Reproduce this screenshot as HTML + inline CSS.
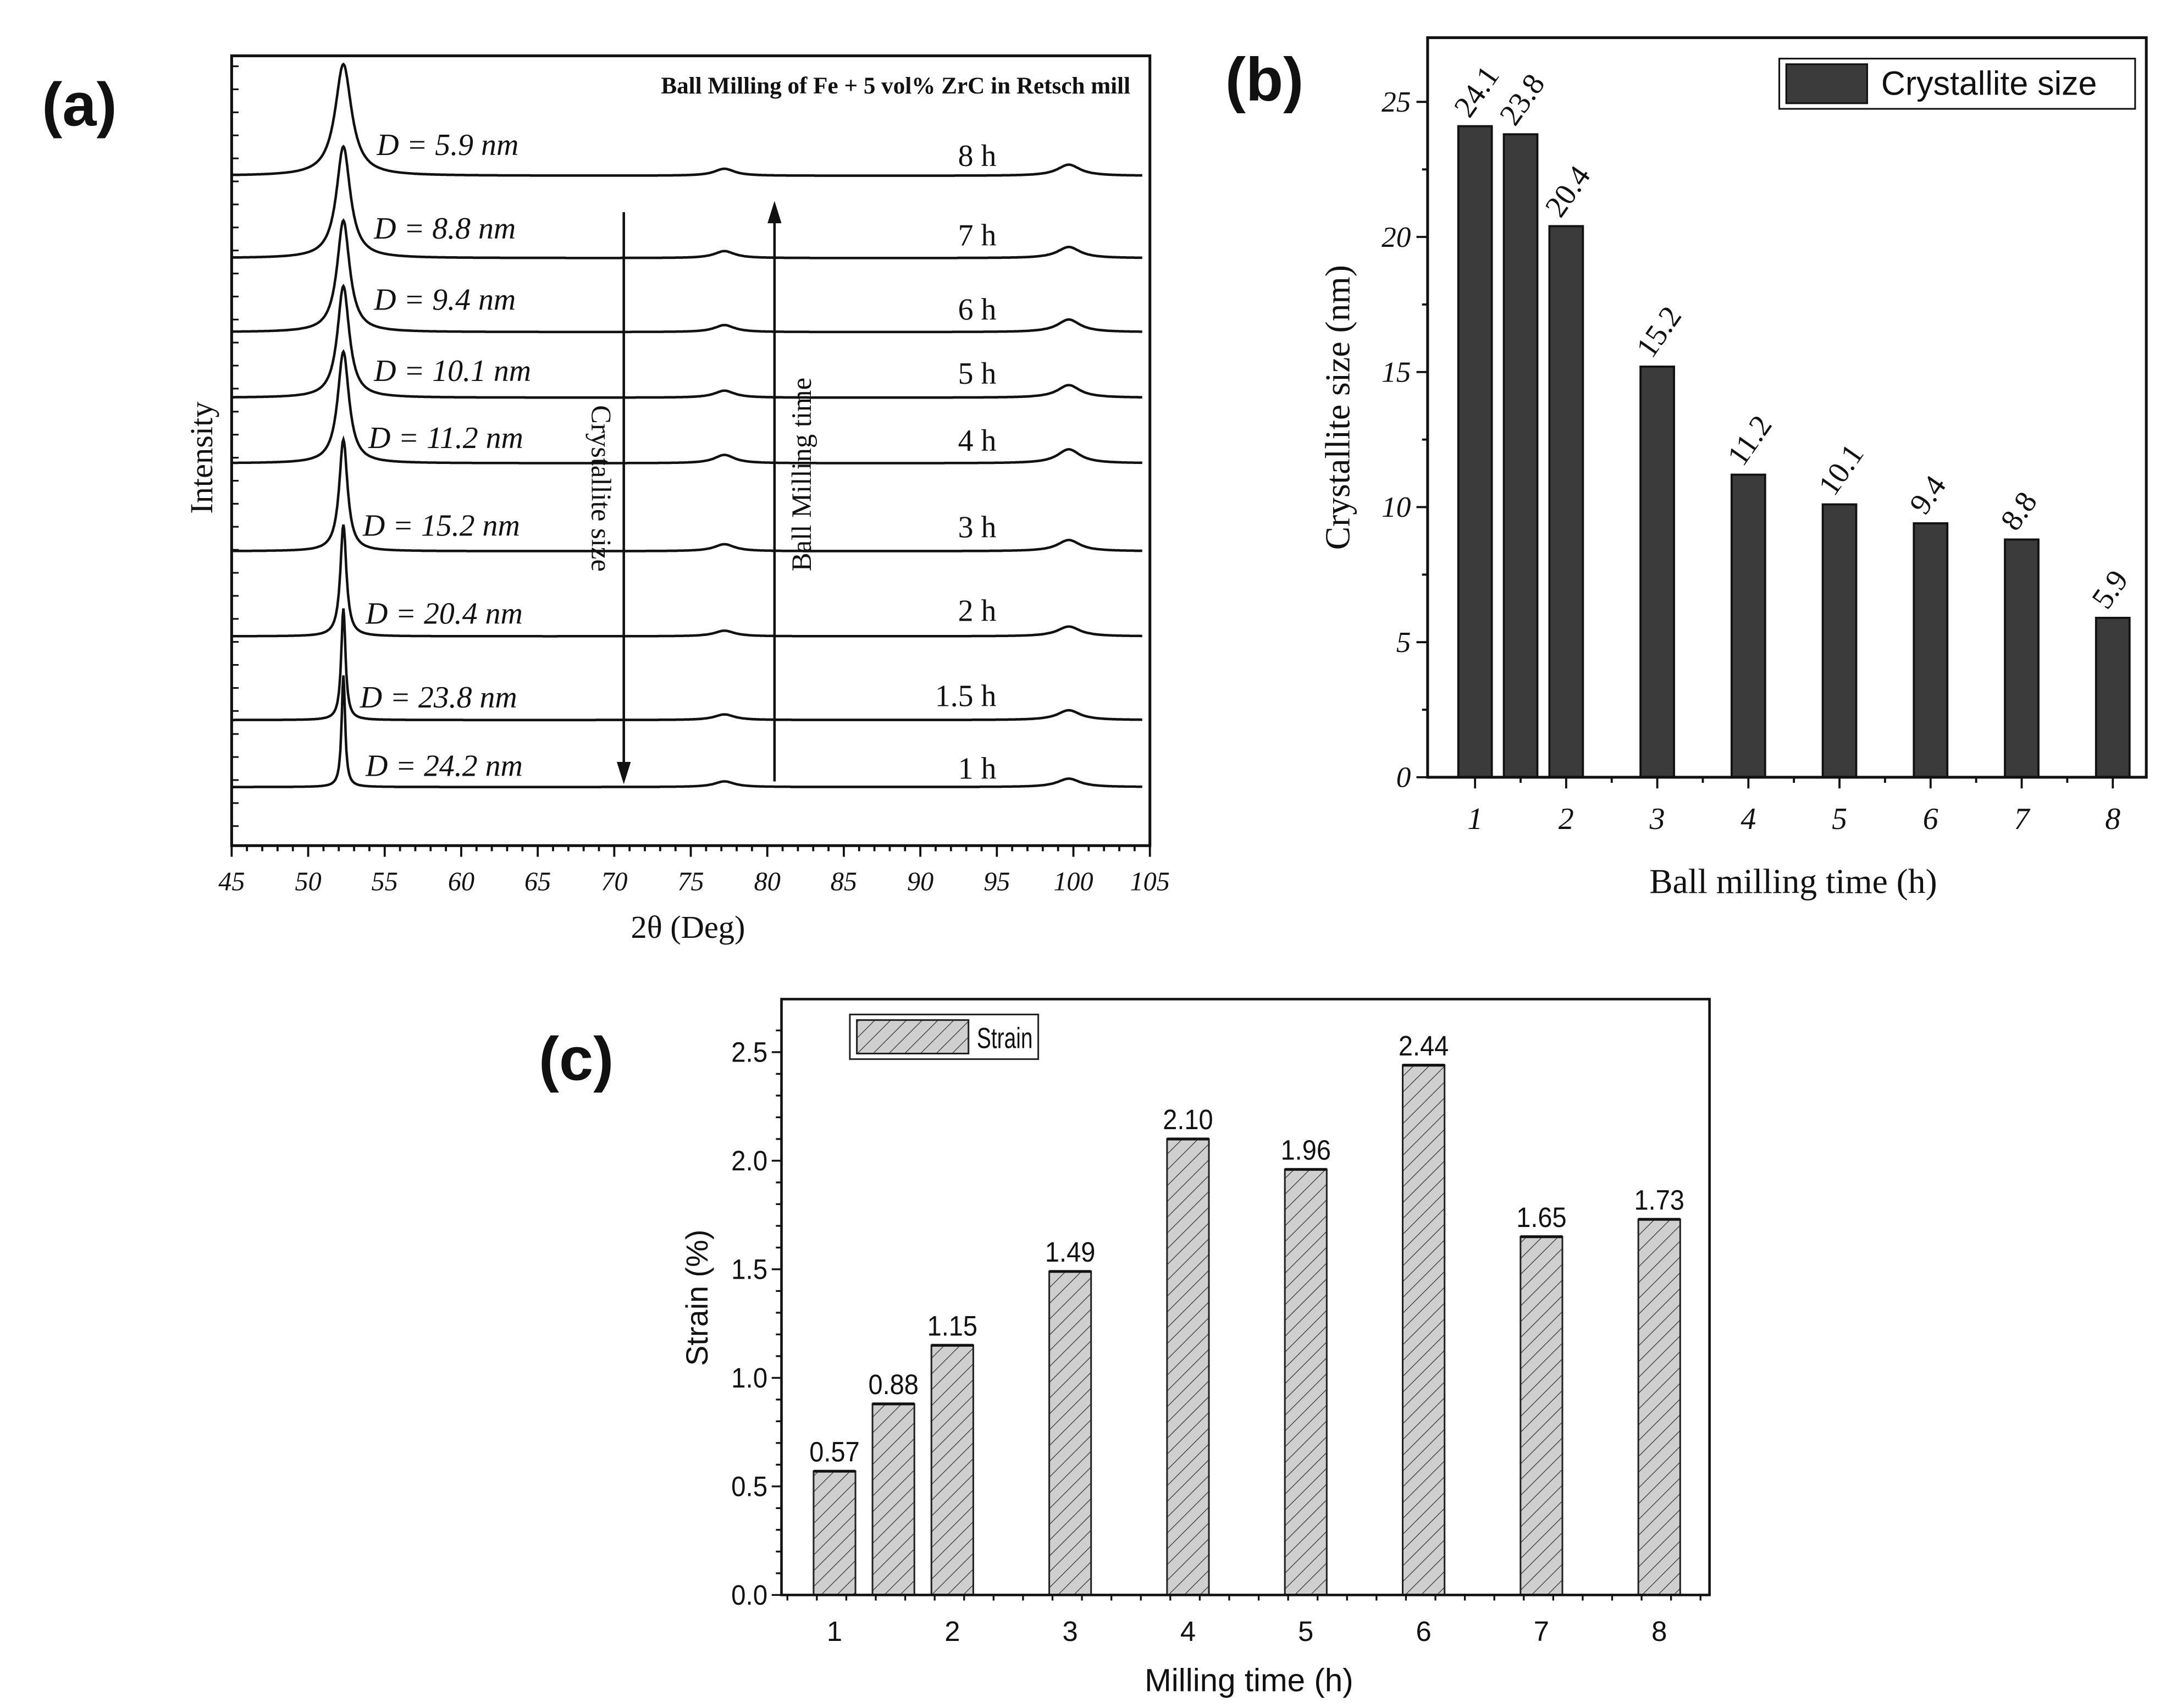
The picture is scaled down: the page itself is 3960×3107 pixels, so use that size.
<!DOCTYPE html>
<html><head><meta charset="utf-8"><style>
html,body{margin:0;padding:0;background:#fff;}
svg{display:block;}
text{fill:#111;}
.serif{font-family:"Liberation Serif",serif;}
.sans{font-family:"Liberation Sans",sans-serif;}
</style></head><body>
<svg id="fig" width="3960" height="3107" viewBox="0 0 1560 1224" preserveAspectRatio="none" xmlns="http://www.w3.org/2000/svg">
<defs>
<pattern id="hatch" patternUnits="userSpaceOnUse" width="8" height="8" patternTransform="rotate(45)">
<rect width="8" height="8" fill="#cfcfcf"/><line x1="0" y1="0" x2="0" y2="8" stroke="#333" stroke-width="1"/>
</pattern>
</defs>
<g id="pa"></g>
<g id="pb"></g>
<g id="pc"></g>
</svg>
<script>
// ---- Panel (a) data ----
const xrdHours = ["8 h","7 h","6 h","5 h","4 h","3 h","2 h","1.5 h","1 h"];
const xrdD = ["5.9","8.8","9.4","10.1","11.2","15.2","20.4","23.8","24.2"];
const xrdBaseline = [126,185,238,285,332,395,456,516,564];
const xrdPeakWidth = [0.65,0.55,0.5,0.47,0.45,0.33,0.24,0.17,0.14];
const xrdPeak2 = [5,5,5,5,6,5,4,4,4];
const xrdPeak3 = [8,8,9,9,10,8,7,7,6];
// ---- Panel (b) data ----
const sizeCats = [1,1.5,2,3,4,5,6,7,8];
const sizeVals = [24.1,23.8,20.4,15.2,11.2,10.1,9.4,8.8,5.9];
const sizeTicks = [0,5,10,15,20,25];
const sizeXTicks = [1,2,3,4,5,6,7,8];
// ---- Panel (c) data ----
const strainCats = [1,1.5,2,3,4,5,6,7,8];
const strainVals = [0.57,0.88,1.15,1.49,2.10,1.96,2.44,1.65,1.73];
const strainLabels = ["0.57","0.88","1.15","1.49","2.10","1.96","2.44","1.65","1.73"];
const strainTicks = [0.0,0.5,1.0,1.5,2.0,2.5];
const strainXTicks = [1,2,3,4,5,6,7,8];

const NS="http://www.w3.org/2000/svg";
function mk(parent,tag,attrs,txt){const e=document.createElementNS(NS,tag);for(const k in attrs)e.setAttribute(k,attrs[k]);if(txt!==undefined)e.textContent=txt;parent.appendChild(e);return e;}

// ===== Panel A =====
(function(){
const g=document.getElementById('pa');
const L=166,R=824,T=40,B=606;
const xa=v=>L+(v-45)*(R-L)/60;
let t=mk(g,'text',{x:30,y:90,'font-size':44,'font-weight':'bold',class:'sans'},'(a)');


let r=mk(g,'rect',{x:L,y:T,width:R-L,height:B-T,fill:'none',stroke:'#111','stroke-width':2});


for(let v=45;v<=105;v+=1){const x=xa(v);const major=v%5===0;
 let l=mk(g,'line',{x1:x,y1:B,x2:x,y2:B+(major?8:4),stroke:'#111','stroke-width':1.5});
 
 
 if(major){let tl=mk(g,'text',{x:x,y:638,'font-size':19,'font-style':'italic','text-anchor':'middle',class:'serif'},String(v));
  
  }
}
for(let y=B-14;y>T;y-=16.5){let l=mk(g,'line',{x1:L,y1:y,x2:L+5,y2:y,stroke:'#111','stroke-width':1.2});
 
 }
t=mk(g,'text',{x:493,y:672,'font-size':23,'text-anchor':'middle',class:'serif'},'2θ (Deg)');


t=mk(g,'text',{x:0,y:0,'font-size':23,'text-anchor':'middle',class:'serif',transform:'translate(152,328) rotate(-90)'},'Intensity');


t=mk(g,'text',{x:810,y:67,'font-size':17,'font-weight':'bold','text-anchor':'end',class:'serif'},'Ball Milling of Fe + 5 vol% ZrC in Retsch mill');


const dY=[111,171,222,273,321,384,447,507,556], dX=[270,268,268,268,264,260,262,258,262];
const hY=[119,176,229,275,323,385,445,506,558];
for(let i=0;i<xrdHours.length;i++){
 const base=xrdBaseline[i], w=xrdPeakWidth[i];
 let d='';
 for(let v=45;v<=104.5;v+=0.05){
  const p1=80/(1+Math.pow((v-52.3)/w,2));
  const p2=xrdPeak2[i]/(1+Math.pow((v-77.2)/0.8,2));
  const p3=xrdPeak3[i]/(1+Math.pow((v-99.7)/0.9,2));
  const y=base-p1-p2-p3;
  d+=(d?'L':'M')+xa(v).toFixed(1)+','+y.toFixed(1);
 }
 let p=mk(g,'path',{d:d,fill:'none',stroke:'#111','stroke-width':1.8});
 
 
 let dl=mk(g,'text',{x:dX[i],y:dY[i],'font-size':22,'font-style':'italic',class:'serif'},'D = '+xrdD[i]+' nm');
 
 
 let hl=mk(g,'text',{x:714,y:hY[i],'font-size':22,'text-anchor':'end',class:'serif'},xrdHours[i]);
 
 
}
let a1=mk(g,'path',{d:'M447,152 L447,550',stroke:'#111','stroke-width':1.8,fill:'none'});


mk(g,'path',{d:'M442,546 L452,546 L447,562 Z',fill:'#111'});
let a2=mk(g,'path',{d:'M555,560 L555,156',stroke:'#111','stroke-width':1.8,fill:'none'});


mk(g,'path',{d:'M550,160 L560,160 L555,144 Z',fill:'#111'});
t=mk(g,'text',{x:0,y:0,'font-size':20,'text-anchor':'middle',class:'serif',transform:'translate(424,350) rotate(90)'},'Crystallite size');


t=mk(g,'text',{x:0,y:0,'font-size':20,'text-anchor':'middle',class:'serif',transform:'translate(581,340) rotate(-90)'},'Ball Milling time');


})();

// ===== Panel B =====
(function(){
const g=document.getElementById('pb');
const L=1023,R=1538,T=27,B=557;
const ya=v=>B-v*(B-73)/25;
const xa=h=>1057+(h-1)*(1514-1057)/7;
let t=mk(g,'text',{x:878,y:72,'font-size':44,'font-weight':'bold',class:'sans'},'(b)');


for(let i=0;i<sizeVals.length;i++){
 const x=xa(sizeCats[i]),y=ya(sizeVals[i]);
 let b=mk(g,'rect',{x:x-12,y:y,width:24,height:B-y,fill:'#3b3b3b',stroke:'#111','stroke-width':1.5});
 
 
 let lb=mk(g,'text',{x:0,y:0,'font-size':22,class:'serif',transform:'translate('+(x-4)+','+(y-5)+') rotate(-55)'},String(sizeVals[i]));
 
 
}
let r=mk(g,'rect',{x:L,y:T,width:R-L,height:B-T,fill:'none',stroke:'#111','stroke-width':2});


for(let v=0;v<=27;v+=2.5){const y=ya(v);const major=v%5===0;
 let l=mk(g,'line',{x1:L-(major?8:4),y1:y,x2:L,y2:y,stroke:'#111','stroke-width':1.5});
 
 }
sizeTicks.forEach(v=>{let tl=mk(g,'text',{x:L-12,y:ya(v)+7,'font-size':21,'font-style':'italic','text-anchor':'end',class:'serif'},String(v));
 
 });
for(let h=1;h<=8;h+=0.5){const x=xa(h);const major=h%1===0;
 let l=mk(g,'line',{x1:x,y1:B,x2:x,y2:B+(major?8:4),stroke:'#111','stroke-width':1.5});
 
 }
sizeXTicks.forEach(h=>{let tl=mk(g,'text',{x:xa(h),y:594,'font-size':22,'font-style':'italic','text-anchor':'middle',class:'serif'},String(h));
 
 });
t=mk(g,'text',{x:1285,y:640,'font-size':25,'text-anchor':'middle',class:'serif'},'Ball milling time (h)');


t=mk(g,'text',{x:0,y:0,'font-size':25,'text-anchor':'middle',class:'serif',transform:'translate(967,292) rotate(-90)'},'Crystallite size (nm)');


let lg=mk(g,'rect',{x:1275,y:42,width:255,height:36,fill:'#fff',stroke:'#111','stroke-width':1.2});


mk(g,'rect',{x:1280,y:46,width:58,height:28,fill:'#3b3b3b',stroke:'#111','stroke-width':1.2});
t=mk(g,'text',{x:1348,y:68,'font-size':24,class:'sans'},'Crystallite size');


})();

// ===== Panel C =====
(function(){
const g=document.getElementById('pc');
const L=560,R=1225,T=716,B=1143;
const ya=v=>B-v*(B-754)/2.5;
const xa=h=>598+(h-1)*(1189-598)/7;
let t=mk(g,'text',{x:386,y:774,'font-size':44,'font-weight':'bold',class:'sans'},'(c)');


for(let i=0;i<strainVals.length;i++){
 const x=xa(strainCats[i]),y=ya(strainVals[i]);
 let b=mk(g,'rect',{x:x-15,y:y,width:30,height:B-y,fill:'url(#hatch)',stroke:'#222','stroke-width':1.2});
 
 
 mk(g,'line',{x1:x-15,y1:y,x2:x+15,y2:y,stroke:'#111','stroke-width':2});
 let lb=mk(g,'text',{x:x,y:y-7,'font-size':20,'text-anchor':'middle',class:'sans',textLength:36,lengthAdjust:'spacingAndGlyphs'},strainLabels[i]);
 
 
}
let r=mk(g,'rect',{x:L,y:T,width:R-L,height:B-T,fill:'none',stroke:'#111','stroke-width':1.8});


for(let v=0;v<=2.7;v+=0.1){const y=ya(v);const major=Math.abs(v*2-Math.round(v*2))<1e-6;
 let l=mk(g,'line',{x1:L-(major?7:4),y1:y,x2:L,y2:y,stroke:'#111','stroke-width':1.3});
 
 }
strainTicks.forEach(v=>{let tl=mk(g,'text',{x:L-10,y:ya(v)+7,'font-size':20,'text-anchor':'end',class:'sans',textLength:26,lengthAdjust:'spacingAndGlyphs'},v.toFixed(1));
 
 });
for(let h=0.6;h<=8.5;h+=0.25){const x=xa(h);if(x<L||x>R)continue;const major=Math.abs(h-Math.round(h))<1e-6;
 let l=mk(g,'line',{x1:x,y1:B,x2:x,y2:B+(major?8:4),stroke:'#111','stroke-width':1.3});
 
 }
strainXTicks.forEach(h=>{let tl=mk(g,'text',{x:xa(h),y:1176,'font-size':20,'text-anchor':'middle',class:'sans'},String(h));
 
 });
t=mk(g,'text',{x:895,y:1212,'font-size':23,'text-anchor':'middle',class:'sans'},'Milling time (h)');


t=mk(g,'text',{x:0,y:0,'font-size':22,'text-anchor':'middle',class:'sans',transform:'translate(507,930) rotate(-90)'},'Strain (%)');


let lg=mk(g,'rect',{x:609,y:727,width:135,height:32,fill:'#fff',stroke:'#222','stroke-width':1.2});


mk(g,'rect',{x:614,y:731,width:80,height:24,fill:'url(#hatch)',stroke:'#222','stroke-width':1.2});
t=mk(g,'text',{x:700,y:751,'font-size':21,class:'sans',textLength:40,lengthAdjust:'spacingAndGlyphs'},'Strain');


})();
</script>
</body></html>
